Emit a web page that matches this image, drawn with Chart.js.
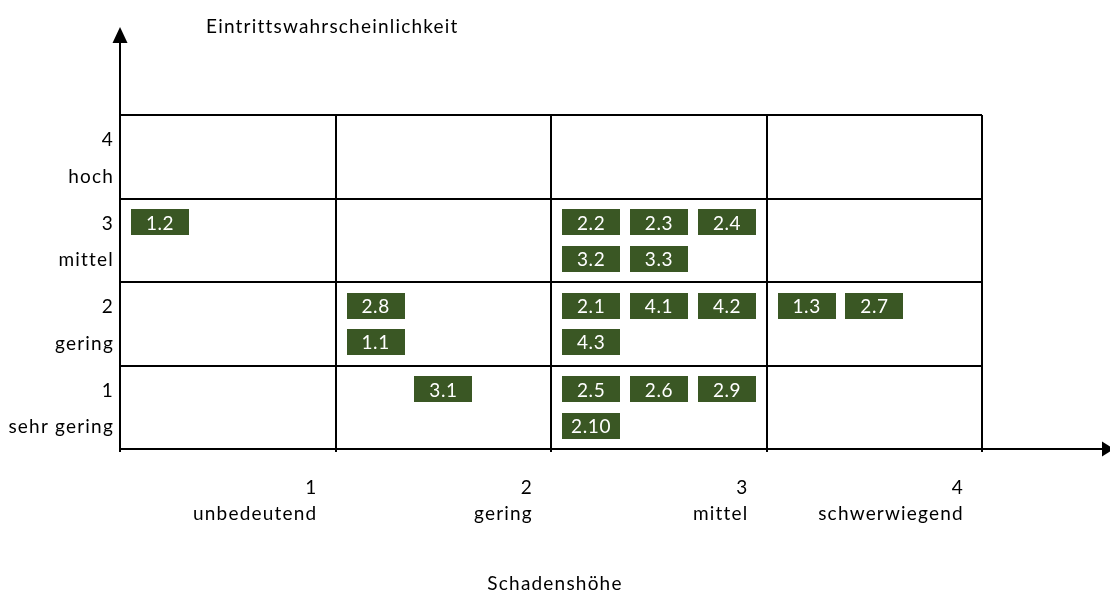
<!DOCTYPE html>
<html>
<head>
<meta charset="utf-8">
<script src="https://cdn.jsdelivr.net/npm/chart.js@4/dist/chart.umd.min.js"></script>
<style>
html,body{margin:0;padding:0;background:#fff;}
#wrap{width:1110px;height:592px;position:relative;}
</style>
</head>
<body>
<div id="wrap"><canvas id="c"></canvas></div>
<script>
// ---- data ----
const impactLabels = [["1","unbedeutend"],["2","gering"],["3","mittel"],["4","schwerwiegend"]];
const probabilityLabels = [["1","sehr gering"],["2","gering"],["3","mittel"],["4","hoch"]];
const riskIds         = ["1.2","2.2","2.3","2.4","3.2","3.3","2.8","1.1","2.1","4.1","4.2","4.3","1.3","2.7","3.1","2.5","2.6","2.9","2.10"];
const riskImpact      = [1,3,3,3,3,3,2,2,3,3,3,3,4,4,2,3,3,3,3];
const riskProbability = [3,3,3,3,3,3,2,2,2,2,2,2,2,2,1,1,1,1,1];
const riskCellSlot    = [0,0,1,2,3,4,0,3,0,1,2,3,0,1,1,0,1,2,3];
const xTitle = "Schadenshöhe";
const yTitle = "Eintrittswahrscheinlichkeit";

// ---- layout inside a cell (fractions of a cell) ----
const slotX = [0.186, 0.501, 0.817];
const slotY = [0.287, 0.719];
const points = riskIds.map((id, i) => {
  const s = riskCellSlot[i];
  return { x: riskImpact[i] - 1 + slotX[s % 3], y: riskProbability[i] - slotY[Math.floor(s / 3)], id };
});

const FONT = 'Lato';
const BOX_COLOR = '#3a5724';
Chart.defaults.font.family = FONT;
Chart.defaults.font.size = 19;
Chart.defaults.color = '#000';

const spacingPlugin = {
  id: 'spacing',
  beforeDraw(chart) { chart.ctx.letterSpacing = '1.2px'; }
};

const boxesPlugin = {
  id: 'boxes',
  afterDatasetsDraw(chart) {
    const ctx = chart.ctx;
    const meta = chart.getDatasetMeta(0);
    ctx.save();
    ctx.letterSpacing = '0.6px';
    meta.data.forEach((el, i) => {
      const w = 58, h = 26;
      ctx.fillStyle = BOX_COLOR;
      ctx.fillRect(Math.round(el.x - w / 2), Math.round(el.y - h / 2), w, h);
      ctx.fillStyle = '#fff';
      ctx.font = '19px ' + FONT;
      ctx.textAlign = 'center';
      ctx.textBaseline = 'middle';
      ctx.fillText(points[i].id, el.x, el.y + 1);
    });
    ctx.restore();
  }
};

const axesPlugin = {
  id: 'axesArrows',
  afterDraw(chart) {
    const ctx = chart.ctx;
    const a = chart.chartArea;
    ctx.save();
    ctx.strokeStyle = '#000';
    ctx.fillStyle = '#000';
    ctx.lineWidth = 2;
    // vertical axis arrow
    ctx.beginPath();
    ctx.moveTo(a.left, a.top);
    ctx.lineTo(a.left, 40);
    ctx.stroke();
    ctx.beginPath();
    ctx.moveTo(a.left, 27);
    ctx.lineTo(a.left - 7.5, 43);
    ctx.lineTo(a.left + 7.5, 43);
    ctx.closePath();
    ctx.fill();
    // horizontal axis arrow
    ctx.beginPath();
    ctx.moveTo(a.right, a.bottom);
    ctx.lineTo(1104, a.bottom);
    ctx.stroke();
    ctx.beginPath();
    ctx.moveTo(1114, a.bottom);
    ctx.lineTo(1102, a.bottom - 7.5);
    ctx.lineTo(1102, a.bottom + 7.5);
    ctx.closePath();
    ctx.fill();
    // axis titles
    ctx.font = '19px ' + FONT;
    ctx.letterSpacing = '1.2px';
    ctx.textBaseline = 'alphabetic';
    ctx.textAlign = 'left';
    ctx.fillText(yTitle, 206, 33);
    ctx.textAlign = 'center';
    ctx.fillText(xTitle, 555, 590);
    ctx.restore();
  }
};

new Chart(document.getElementById('c'), {
  type: 'scatter',
  data: { datasets: [{ data: points, pointRadius: 0, pointHoverRadius: 0 }] },
  options: {
    responsive: true,
    maintainAspectRatio: false,
    animation: false,
    events: [],
    layout: { padding: { top: 115, right: 128, left: 0, bottom: 0 } },
    plugins: { legend: { display: false }, tooltip: { enabled: false } },
    scales: {
      x: {
        type: 'linear', position: 'bottom', min: 0, max: 4,
        ticks: { display: false, stepSize: 1 },
        grid: { color: '#000', lineWidth: 2, drawTicks: true, tickLength: 3, tickColor: '#000' },
        border: { display: true, color: '#000', width: 2 },
        afterFit(s) { s.height = 0; }
      },
      xl: {
        type: 'linear', position: 'bottom', min: 0, max: 4,
        afterBuildTicks(s) { s.ticks = impactLabels.map((_, i) => ({ value: i + 0.916 })); },
        ticks: {
          autoSkip: false, maxRotation: 0, minRotation: 0, align: 'end', padding: 26,
          font: { size: 19, lineHeight: 1.37 },
          callback: (v, i) => impactLabels[i]
        },
        grid: { display: false, drawTicks: false },
        border: { display: false },
        afterFit(s) { s.height = 143; }
      },
      y: {
        type: 'linear', position: 'left', min: 0, max: 4,
        ticks: { display: false, stepSize: 1 },
        grid: { color: '#000', lineWidth: 2, drawTicks: false },
        border: { display: true, color: '#000', width: 2 },
        afterFit(s) { s.width = 0; }
      },
      yl: {
        type: 'linear', position: 'left', min: 0, max: 4,
        afterBuildTicks(s) { s.ticks = probabilityLabels.map((_, i) => ({ value: i + 0.48 })); },
        ticks: {
          autoSkip: false, padding: 6,
          font: { size: 19, lineHeight: 1.92 },
          callback: (v, i) => probabilityLabels[i]
        },
        grid: { display: false, drawTicks: false },
        border: { display: false },
        afterFit(s) { s.width = 120; }
      }
    }
  },
  plugins: [spacingPlugin, boxesPlugin, axesPlugin]
});
</script>
</body>
</html>
